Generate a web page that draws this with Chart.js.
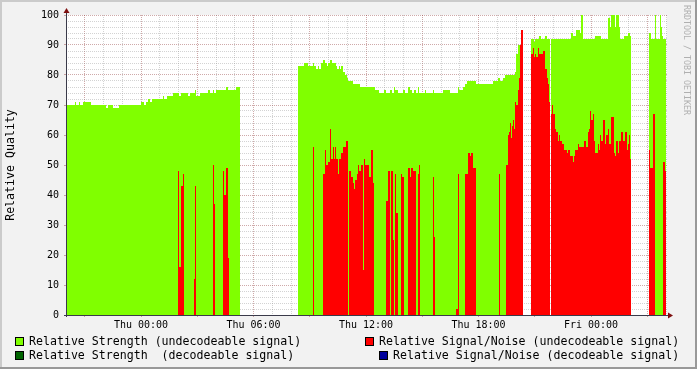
<!DOCTYPE html>
<html>
<head>
<meta charset="utf-8">
<script src="https://cdn.jsdelivr.net/npm/chart.js@4.4.1/dist/chart.umd.min.js"></script>
<style>
  html, body { margin: 0; padding: 0; background: #f2f2f2; }
  #wrap { position: relative; width: 697px; height: 369px; overflow: hidden; }
  #chart { position: absolute; left: 0; top: 0; }
  .lg { position: absolute; font: 11.6px "DejaVu Sans Mono", monospace; color: #000; white-space: pre; line-height: 14px; }
  .box { position: absolute; width: 7px; height: 7px; border: 1px solid #000; }
  #credit { position: absolute; left: 682px; top: 5px; font: 8.3px "DejaVu Sans Mono", monospace; color: #b0b0b0;
            writing-mode: vertical-rl; white-space: pre; line-height: 10px; }
</style>
</head>
<body>
<div id="wrap">
  <canvas id="chart" width="697" height="369"></canvas>
  <div class="box" style="left:15px;top:337px;background:#80ff00"></div>
  <div class="lg" style="left:29px;top:334px">Relative Strength (undecodeable signal)</div>
  <div class="box" style="left:15px;top:351px;background:#006400"></div>
  <div class="lg" style="left:29px;top:348px">Relative Strength  (decodeable signal)</div>
  <div class="box" style="left:365px;top:337px;background:#ff0000"></div>
  <div class="lg" style="left:379px;top:334px">Relative Signal/Noise (undecodeable signal)</div>
  <div class="box" style="left:379px;top:351px;background:#00009c"></div>
  <div class="lg" style="left:393px;top:348px">Relative Signal/Noise (decodeable signal)</div>
  <div id="credit">RRDTOOL / TOBI OETIKER</div>
</div>
<script>
// rrd samples: one every 3.2 minutes, starting Wed 20:00 (hour -4 relative to Thu 00:00)
const STEP_H = 1 / 18.75;
const START_H = -4;
const LAST_SAMPLE = 600;
const N_SAMPLES = 601;

const tickHours = [0, 6, 12, 18, 24];
const tickLabels = ["Thu 00:00", "Thu 06:00", "Thu 12:00", "Thu 18:00", "Fri 00:00"];

// [sample, value] change points, null = no data
const strengthUndec = [
  [0,70],[9,71],[10,70],[13,71],[14,70],[17,71],[25,70],[40,69],[42,70],[47,69],[53,70],
  [75,71],[78,70],[80,71],[82,72],[84,71],[86,72],[97,73],[98,72],[101,73],[107,74],[113,73],
  [115,74],[122,73],[124,74],[129,75],[130,73],[134,74],[142,75],[144,74],[147,75],[148,74],
  [150,75],[160,76],[162,75],[170,76],[174,null],
  [232,83],[238,84],[242,83],[247,84],[248,83],[250,82],[252,83],[253,82],[255,84],[257,85],[259,84],
  [261,83],[262,84],[264,85],[266,84],[270,83],[271,82],[273,83],[274,82],[275,83],[277,81],[279,80],
  [281,79],[282,78],[287,77],[294,76],[309,75],[313,74],[318,75],[320,74],[324,75],[326,74],[328,76],
  [329,75],[332,74],[337,75],[339,74],[342,76],[344,75],[346,74],[348,75],[350,74],[352,76],[353,74],
  [359,75],[360,74],[367,75],[368,74],[377,75],[384,74],[392,76],[393,75],[397,76],[399,77],[401,78],
  [410,77],[427,78],[432,79],[434,78],[437,79],[439,80],[449,81],[450,87],[452,90],[457,null],
  [465,92],[468,91],[469,92],[473,93],[475,92],[479,93],[481,92],[484,null],[485,92],[505,94],[507,93],
  [510,95],[514,94],[515,100],[517,92],[529,93],[535,92],[542,99],[544,96],[545,100],[549,96],
  [550,100],[553,96],[554,92],[558,93],[562,94],[564,93],[565,null],[583,94],[585,92],[589,100],[590,92],
  [594,100],[595,96],[596,93],[597,92]
];
const strengthDec = [];
const snrUndec = [
  [0,0],[112,48],[113,16],[115,43],[117,47],[118,0],[128,12],[129,43],[130,0],[147,50],[148,37],[149,0],
  [157,48],[158,40],[160,49],[162,19],[163,0],[174,null],
  [232,0],[247,56],[248,0],[257,47],[259,55],[260,50],[262,51],[264,62],[265,52],[267,56],[268,52],
  [269,56],[270,52],[272,47],[273,52],[275,54],[277,56],[280,58],[282,0],[283,48],[285,46],[287,44],
  [288,42],[289,45],[291,47],[292,50],[293,48],[295,50],[297,15],[298,52],[299,50],[303,46],[305,55],
  [307,44],[308,0],[320,38],[322,48],[324,0],[325,48],[327,25],[328,0],[329,47],[330,34],[332,0],
  [335,47],[336,46],[338,0],[342,49],[344,46],[345,49],[347,48],[350,0],[352,47],[353,50],[354,0],
  [367,46],[368,26],[369,0],[390,2],[392,47],[393,0],[399,47],[402,54],[404,53],[405,54],[407,49],
  [410,0],[433,47],[434,0],[440,50],[442,60],[443,61],[444,64],[445,59],[446,63],[447,65],[448,62],
  [449,71],[450,70],[452,75],[453,79],[454,90],[455,95],[457,null],
  [465,87],[467,89],[468,86],[469,87],[470,86],[472,89],[473,87],[477,88],[479,82],[481,79],[482,77],
  [483,71],[484,null],[485,67],[486,70],[487,67],[489,62],[490,61],[492,58],[493,60],[494,58],[496,57],
  [498,55],[501,54],[502,55],[504,53],[507,51],[508,53],[509,55],[512,57],[513,56],[518,58],[520,56],
  [522,61],[523,62],[524,68],[525,65],[527,67],[528,58],[529,54],[532,57],[533,55],[534,60],[535,58],
  [537,65],[539,57],[540,60],[542,62],[543,57],[545,66],[548,54],[549,53],[550,58],[552,54],[553,58],
  [555,61],[557,58],[559,61],[561,55],[562,57],[563,60],[564,52],[565,null],
  [583,55],[584,49],[587,67],[589,0],[597,51],[599,48]
];
const snrDec = [];

const hourOf = s => START_H + s * STEP_H;

function toPoints(runs) {
  const pts = [];
  runs.forEach(([s, v], k) => {
    const next = runs[k + 1];
    if (v === null) { pts.push({x: hourOf(s), y: null}); return; }
    pts.push({x: hourOf(s), y: v});
    if (!next || next[1] === null) pts.push({x: hourOf(next ? next[0] : LAST_SAMPLE), y: v});
  });
  return pts;
}

const FONT = "'DejaVu Sans Mono', monospace";
const GRID = 'rgba(140,140,140,0.38)';
const MGRID = 'rgba(130,30,30,0.38)';
const near = (v, m) => Math.abs(v / m - Math.round(v / m)) < 1e-6;

// each value holds from its own sample until the next change point
const area = (label, runs, color, order) => ({
  label, data: toPoints(runs), order,
  backgroundColor: color, borderColor: 'rgba(0,0,0,0)', borderWidth: 0,
  fill: 'origin', stepped: 'before', pointRadius: 0, spanGaps: false
});

const rrdFrame = {
  id: 'rrdFrame',
  beforeDraw(chart) {
    const {ctx, chartArea: a} = chart;
    ctx.save();
    ctx.fillStyle = '#f2f2f2';
    ctx.fillRect(0, 0, 697, 369);
    ctx.fillStyle = '#cbcbcb';
    ctx.fillRect(0, 0, 697, 2);
    ctx.fillRect(0, 0, 2, 369);
    ctx.fillStyle = '#999999';
    ctx.fillRect(0, 367, 697, 2);
    ctx.fillRect(695, 0, 2, 369);
    ctx.fillStyle = '#ffffff';
    ctx.fillRect(a.left, a.top, a.right - a.left, a.bottom - a.top);
    ctx.restore();
  },
  afterDraw(chart) {
    const {ctx, chartArea: a} = chart;
    ctx.save();
    ctx.strokeStyle = '#3a3a4a';
    ctx.lineWidth = 1;
    ctx.beginPath();
    ctx.moveTo(a.left + 0.5, a.bottom + 2);
    ctx.lineTo(a.left + 0.5, a.top - 4);
    ctx.moveTo(a.left - 2, a.bottom + 0.5);
    ctx.lineTo(a.right + 3, a.bottom + 0.5);
    ctx.stroke();
    ctx.fillStyle = '#7f1010';
    ctx.beginPath();
    ctx.moveTo(a.left + 0.5, a.top - 7);
    ctx.lineTo(a.left - 2.5, a.top - 2);
    ctx.lineTo(a.left + 3.5, a.top - 2);
    ctx.closePath();
    ctx.fill();
    ctx.beginPath();
    ctx.moveTo(a.right + 6, a.bottom + 0.5);
    ctx.lineTo(a.right + 1, a.bottom - 2.5);
    ctx.lineTo(a.right + 1, a.bottom + 3.5);
    ctx.closePath();
    ctx.fill();
    ctx.restore();
  }
};

new Chart(document.getElementById('chart').getContext('2d'), {
  type: 'line',
  data: {
    datasets: [
      area('Relative Strength (undecodeable signal)', strengthUndec, '#80ff00', 3),
      area('Relative Strength  (decodeable signal)', strengthDec, '#006400', 2),
      area('Relative Signal/Noise (undecodeable signal)', snrUndec, '#ff0000', 1),
      area('Relative Signal/Noise (decodeable signal)', snrDec, '#00009c', 0)
    ]
  },
  options: {
    responsive: false,
    animation: false,
    devicePixelRatio: 1,
    layout: { padding: { left: 0, right: 30, top: 15, bottom: 0 } },
    plugins: { legend: { display: false }, tooltip: { enabled: false } },
    scales: {
      x: {
        type: 'linear',
        min: START_H,
        max: hourOf(N_SAMPLES),
        z: 1,
        afterFit: s => { s.height = 54; },
        border: { display: false, dash: [1, 1] },
        grid: {
          color: c => near(c.tick.value, 3) ? MGRID : (near(c.tick.value, 1) ? GRID : 'rgba(0,0,0,0)'),
          tickColor: c => near(c.tick.value, 3) ? MGRID : 'rgba(0,0,0,0)',
          tickLength: 2,
          lineWidth: 1
        },
        ticks: {
          stepSize: 1,
          autoSkip: false,
          maxRotation: 0,
          includeBounds: false,
          padding: 2,
          color: '#000',
          font: { family: FONT, size: 10 },
          callback: v => {
            const i = tickHours.findIndex(h => Math.abs(h - v) < 1e-6);
            return i >= 0 ? tickLabels[i] : '';
          }
        }
      },
      y: {
        min: 0,
        max: 100,
        z: 1,
        afterFit: s => { s.width = 66; },
        border: { display: false, dash: [1, 1] },
        grid: {
          color: c => near(c.tick.value, 10) ? MGRID : GRID,
          tickColor: c => near(c.tick.value, 10) ? MGRID : 'rgba(0,0,0,0)',
          tickLength: 2,
          lineWidth: 1
        },
        ticks: {
          stepSize: 2,
          autoSkip: false,
          padding: 5,
          color: '#000',
          font: { family: FONT, size: 10 },
          callback: v => near(v, 10) ? String(v) : ''
        },
        title: {
          display: true,
          text: 'Relative Quality',
          color: '#000',
          font: { family: FONT, size: 11.6 },
          padding: { top: 4, bottom: 0 }
        }
      }
    }
  },
  plugins: [rrdFrame]
});
</script>
</body>
</html>
